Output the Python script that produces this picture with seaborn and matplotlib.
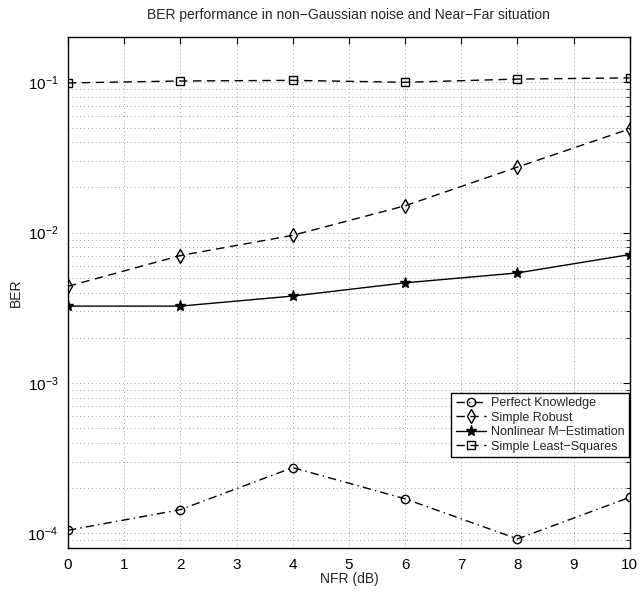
import matplotlib
matplotlib.use("Agg")
import matplotlib.pyplot as plt
import seaborn as sns
import pandas as pd
import numpy as np
from matplotlib.ticker import LogLocator, NullFormatter, MultipleLocator

nfr = [0, 2, 4, 6, 8, 10]
perfect = [1.05e-4, 1.44e-4, 2.74e-4, 1.70e-4, 9.2e-5, 1.74e-4]
robust = [0.0044, 0.00705, 0.0096, 0.0151, 0.0273, 0.049]
mest = [0.00325, 0.00325, 0.00379, 0.00464, 0.0054, 0.00715]
lsq = [0.099, 0.102, 0.103, 0.100, 0.105, 0.107]

names = ["Perfect Knowledge", "Simple Robust", "Nonlinear M\u2212Estimation", "Simple Least\u2212Squares"]
series = [perfect, robust, mest, lsq]
df = pd.DataFrame({
    "NFR": nfr * 4,
    "BER": sum(series, []),
    "method": sum([[n] * len(nfr) for n in names], []),
})

sns.set_style("white")
plt.rcParams["font.family"] = ["Liberation Sans", "DejaVu Sans"]

fig = plt.figure(figsize=(6.44, 5.97), dpi=100)
ax = fig.add_axes([0.1056, 0.082, 0.8724, 0.856])

styles = {
    names[0]: dict(marker="o", linestyle=(0, (6, 3, 1, 3)), mfc="none", ms=6),
    names[1]: dict(marker="d", linestyle=(0, (6, 4)), mfc="none", ms=7.5),
    names[2]: dict(marker="*", linestyle="-", mfc="black", ms=8),
    names[3]: dict(marker="s", linestyle=(0, (6, 4)), mfc="none", ms=5.5),
}
for n in names:
    st = styles[n]
    sub = df[df["method"] == n]
    sns.lineplot(data=sub, x="NFR", y="BER", ax=ax, color="black", linewidth=1.0,
                 marker=st["marker"], markersize=st["ms"], markerfacecolor=st["mfc"],
                 markeredgecolor="black", markeredgewidth=1.0, label=n,
                 linestyle=st["linestyle"], estimator=None, errorbar=None)

ax.set_yscale("log")
ax.set_ylim(8e-5, 0.2)
ax.set_xlim(0, 10)
ax.xaxis.set_major_locator(MultipleLocator(1))
ax.yaxis.set_major_locator(LogLocator(base=10, numticks=10))
ax.yaxis.set_minor_locator(LogLocator(base=10, subs=np.arange(2, 10), numticks=20))
ax.yaxis.set_minor_formatter(NullFormatter())

ax.grid(True, which="major", linestyle=(0, (1, 3)), color="#a0a0a0", linewidth=0.7)
ax.grid(True, which="minor", axis="y", linestyle=(0, (1, 3)), color="#a0a0a0", linewidth=0.7)
ax.tick_params(which="both", direction="in", top=True, right=True, colors="black", labelsize=11)
ax.tick_params(which="major", length=5, pad=7)
ax.tick_params(which="minor", length=3)
for s in ax.spines.values():
    s.set_color("black")
    s.set_linewidth(1.0)

ax.set_xlabel("NFR (dB)", fontsize=10, labelpad=0)
ax.set_ylabel("BER", fontsize=10, labelpad=3)
ax.set_title("BER performance in non\u2212Gaussian noise and Near\u2212Far situation", fontsize=10, pad=13)

leg = ax.legend(loc="lower right", bbox_to_anchor=(0.998, 0.178), fontsize=9, frameon=True,
                fancybox=False, edgecolor="black", framealpha=1, handlelength=2.4,
                borderpad=0.35, labelspacing=0.2, handletextpad=0.4, borderaxespad=0)
leg.get_frame().set_linewidth(1.0)

fig.savefig("out.png", dpi=100)
